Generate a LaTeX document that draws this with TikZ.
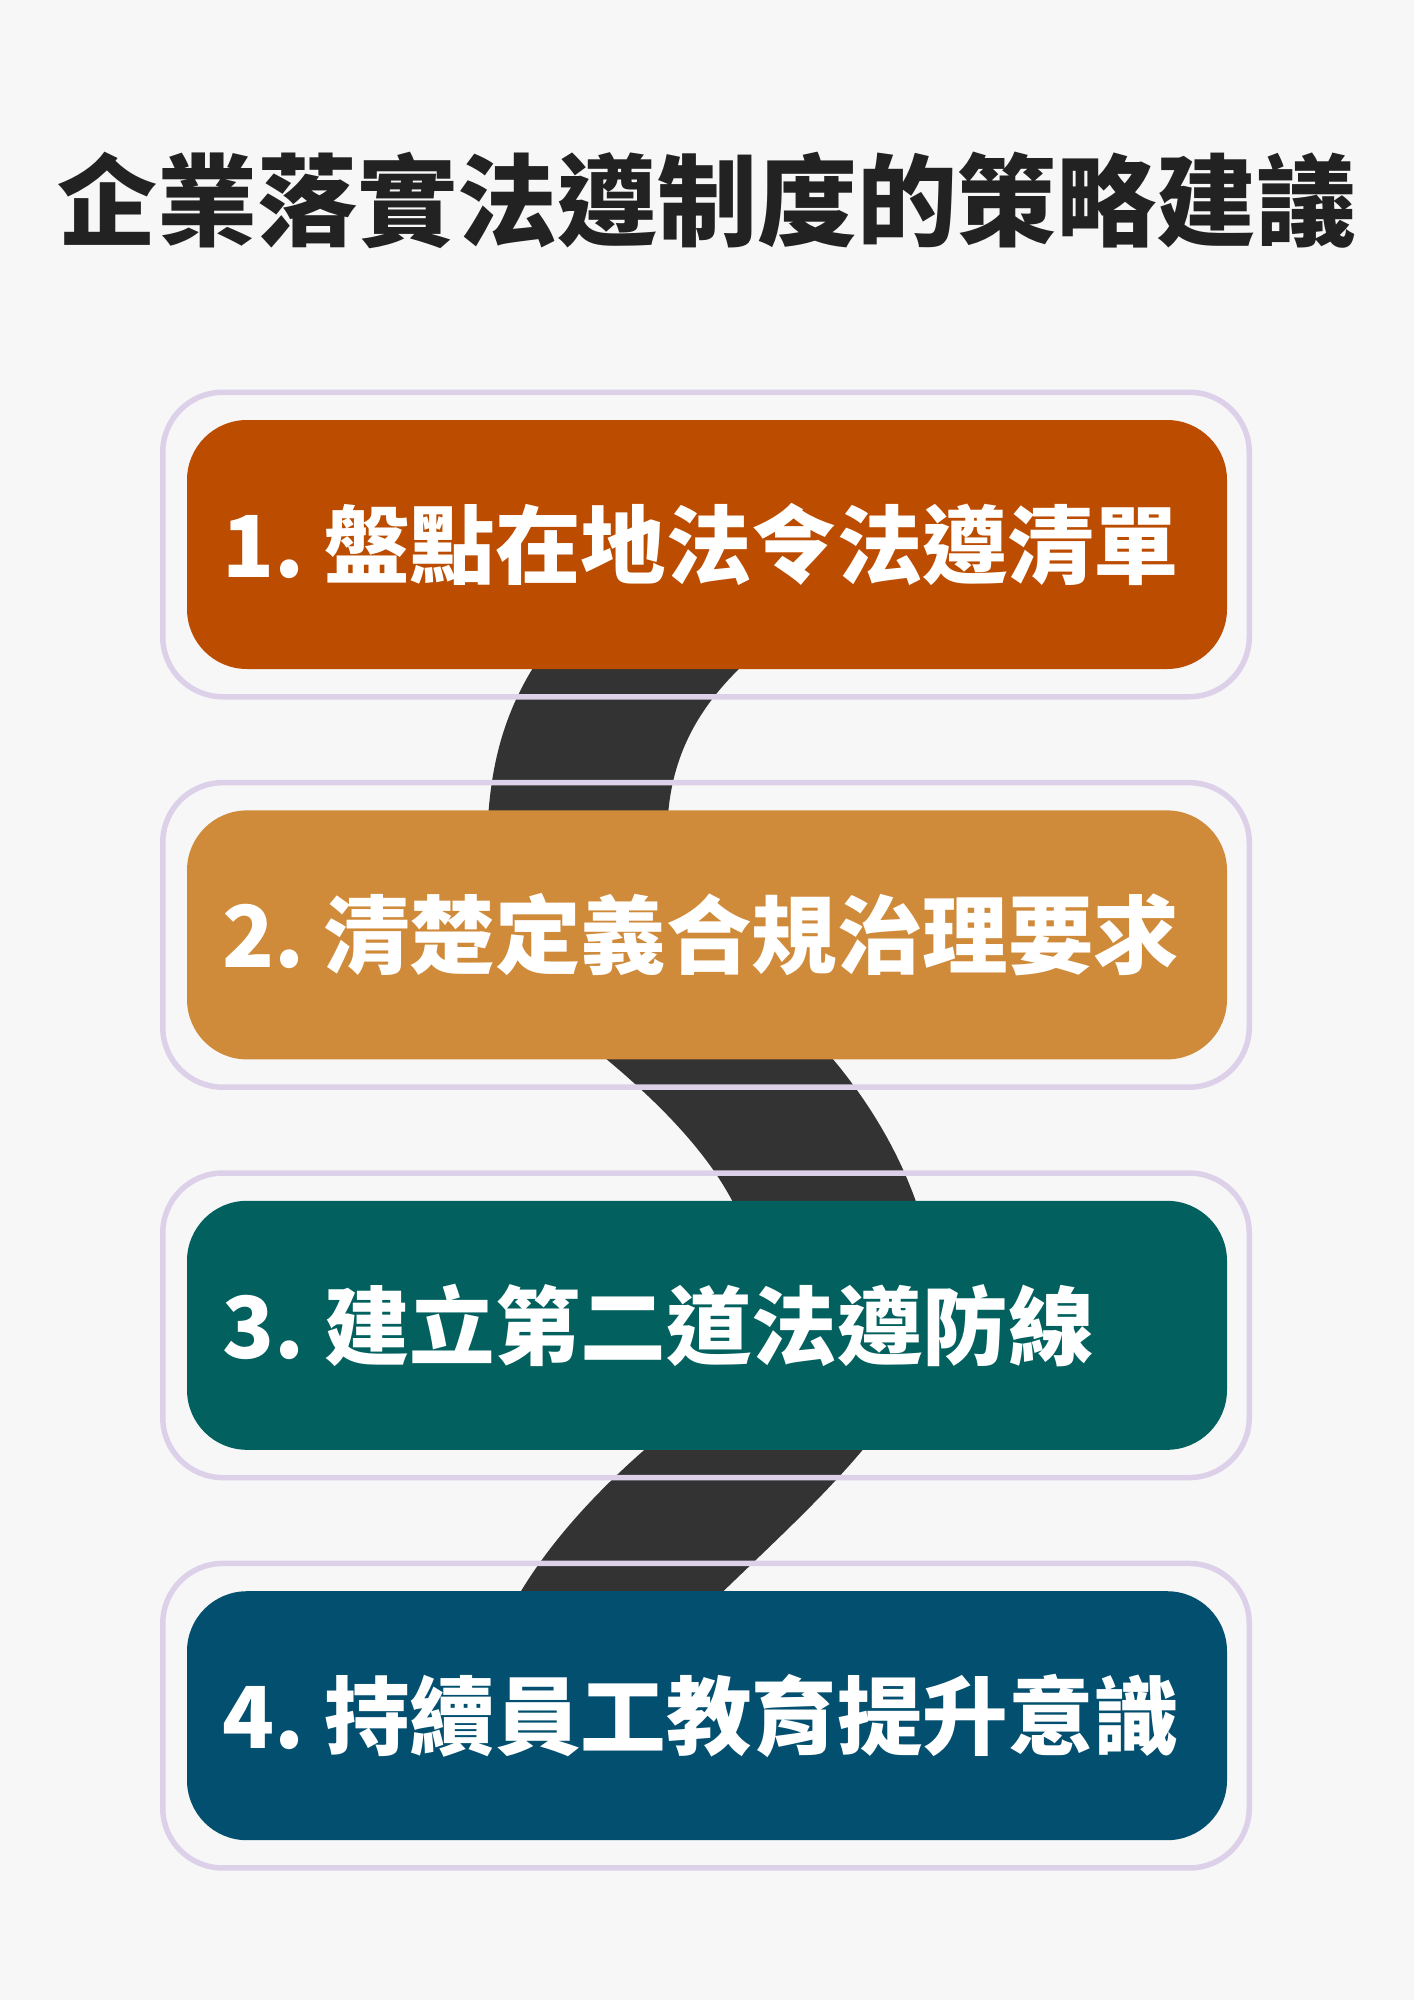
\documentclass[tikz,border=0pt]{standalone}
\usepackage{fontspec}
\newfontfamily\cjk{Noto Sans CJK TC}
\definecolor{bgc}{HTML}{F7F7F7}
\definecolor{roadc}{HTML}{333333}
\definecolor{ringc}{HTML}{DDD1EA}
\definecolor{titlec}{HTML}{222222}
\definecolor{c1}{HTML}{BC4C00}
\definecolor{c2}{HTML}{CF8A3A}
\definecolor{c3}{HTML}{02605E}
\definecolor{c4}{HTML}{034F6F}
\newcommand{\numgap}{\hspace{20pt}}
\tikzset{
  ring/.style={draw=ringc, line width=5.5pt, rounded corners=60pt, minimum width=1086.5pt, minimum height=304.5pt, inner sep=0pt},
  stepbox/.style={rounded corners=60pt, minimum width=1040pt, minimum height=249pt, text width=970pt, inner xsep=35pt, inner ysep=0pt, align=left, text=white, font=\cjk\bfseries\fontsize{85.5}{100}\selectfont},
  road/.style={fill=roadc},
}
\begin{document}
\begin{tikzpicture}[x=1pt,y=-1pt]
\useasboundingbox (0,0) rectangle (1414,2000);
\fill[bgc] (0,0) rectangle (1414,2000);
\node[text=titlec, font=\cjk\bfseries\fontsize{100}{120}\selectfont, inner sep=0pt] (title) at (707,200) {企業落實法遵制度的策略建議};
% winding road behind the steps
\path[road] (545,650) .. controls (499.4,713.3) and (488.9,776.7) .. (487,840)
  -- (570,1030) .. controls (656.7,1096.7) and (721.7,1163.3) .. (745,1230)
  -- (680,1420) .. controls (596.7,1486.7) and (538.3,1553.3) .. (505,1620)
  -- (694,1620) .. controls (760.7,1553.3) and (838,1486.7) .. (886,1420)
  -- (925,1230) .. controls (906.3,1163.3) and (870.3,1096.7) .. (807,1030)
  -- (667,840) .. controls (667,776.7) and (684,713.3) .. (760,650)
  -- cycle;
% outer rings
\node[ring] (o1) at (706,544.5) {};
\node[ring] (o2) at (706,934.9) {};
\node[ring] (o3) at (706,1325.3) {};
\node[ring] (o4) at (706,1715.7) {};
% step boxes
\node[stepbox, fill=c1] (s1) at (707,544.5) {1.\numgap 盤點在地法令法遵清單};
\node[stepbox, fill=c2] (s2) at (707,934.9) {2.\numgap 清楚定義合規治理要求};
\node[stepbox, fill=c3] (s3) at (707,1325.3) {3.\numgap 建立第二道法遵防線};
\node[stepbox, fill=c4] (s4) at (707,1715.7) {4.\numgap 持續員工教育提升意識};
\end{tikzpicture}
\end{document}
